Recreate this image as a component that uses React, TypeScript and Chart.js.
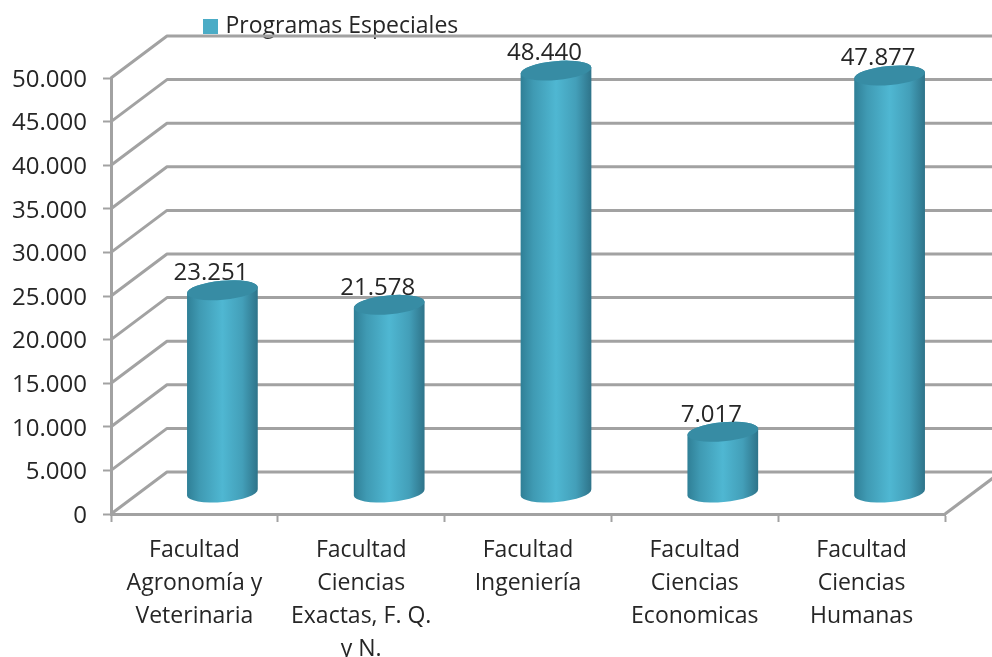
import React, { useEffect, useRef } from "react";
import { Chart, registerables } from "chart.js";

Chart.register(...registerables);

const categories: string[][] = [
  ["Facultad", "Agronomía y", "Veterinaria"],
  ["Facultad", "Ciencias", "Exactas, F. Q.", "y N."],
  ["Facultad", "Ingeniería"],
  ["Facultad", "Ciencias", "Economicas"],
  ["Facultad", "Ciencias", "Humanas"],
];
const programasEspeciales: number[] = [23251, 21578, 48440, 7017, 47877];
const seriesName = "Programas Especiales";

const FONT = "'Open Sans', sans-serif";
const TEXT = "#262626";
const LINE = "#a2a2a2";
const SWATCH = "#4bacc6";
const DEPTH_X = 56;
const DEPTH_Y = 42;

const fmt = (v: number) =>
  v === 0 ? "0" : `${Math.floor(v / 1000)}.${String(v % 1000).padStart(3, "0")}`;

function makeSwatch() {
  const c = document.createElement("canvas");
  c.width = 15;
  c.height = 15;
  const g = c.getContext("2d") as CanvasRenderingContext2D;
  g.fillStyle = SWATCH;
  g.fillRect(0, 0, 15, 15);
  return c;
}

const scene3d = {
  id: "scene3d",
  afterLayout(chart: any) {
    const lg = chart.legend;
    lg.left = 197;
    lg.right = 197 + lg.lineWidths[0] + 20;
    lg.top = 5;
  },
  beforeDraw(chart: any) {
    // nudge the value-axis labels down to sit on their tick marks
    chart.scales.y.getLabelItems(chart.chartArea).forEach((it: any) => {
      if (!it.options.__nudged) {
        it.options.translation = [it.options.translation[0], it.options.translation[1] + 2];
        it.options.__nudged = true;
      }
    });
  },
  beforeDatasetsDraw(chart: any) {
    const { ctx, chartArea, scales } = chart;
    const { left, right } = chartArea;
    const y = scales.y;
    ctx.save();
    ctx.strokeStyle = LINE;
    ctx.lineWidth = 3;
    ctx.lineJoin = "round";
    y.ticks.forEach((t: any) => {
      const py = y.getPixelForValue(t.value);
      ctx.beginPath();
      ctx.moveTo(left, py);
      ctx.lineTo(left + DEPTH_X, py - DEPTH_Y);
      ctx.lineTo(right + DEPTH_X, py - DEPTH_Y);
      ctx.stroke();
    });
    const y0 = y.getPixelForValue(0);
    ctx.beginPath();
    ctx.moveTo(right, y0);
    ctx.lineTo(right + DEPTH_X, y0 - DEPTH_Y);
    ctx.stroke();
    ctx.restore();
  },
  beforeDatasetDraw() {
    return false;
  },
  afterDatasetsDraw(chart: any) {
    const { ctx } = chart;
    const meta = chart.getDatasetMeta(0);
    const theta = -0.09;
    const ry = 9.5;
    meta.data.forEach((bar: any, i: number) => {
      const cx = bar.x + DEPTH_X / 2;
      const top = bar.y - DEPTH_Y / 2;
      const base = bar.base - DEPTH_Y / 2;
      const rx = bar.width / 2;
      ctx.save();
      const g = ctx.createLinearGradient(cx - rx, 0, cx + rx, 0);
      g.addColorStop(0, "#2f7f96");
      g.addColorStop(0.18, "#3f9ab3");
      g.addColorStop(0.5, "#4fb7d2");
      g.addColorStop(0.78, "#439fb9");
      g.addColorStop(1, "#2e7389");
      ctx.fillStyle = g;
      ctx.beginPath();
      ctx.ellipse(cx, base, rx, ry, theta, 0, Math.PI);
      ctx.ellipse(cx, top, rx, ry, theta, Math.PI, 2 * Math.PI);
      ctx.closePath();
      ctx.fill();
      ctx.fillStyle = "#378ca4";
      ctx.beginPath();
      ctx.ellipse(cx, top, rx, ry, theta, 0, 2 * Math.PI);
      ctx.fill();
      ctx.fillStyle = TEXT;
      ctx.font = `24px ${FONT}`;
      ctx.textAlign = "center";
      ctx.textBaseline = "middle";
      ctx.fillText(fmt(programasEspeciales[i]), cx - 11.5, top - 17);
      ctx.restore();
    });
  },
};

export default function App() {
  const ref = useRef<HTMLCanvasElement>(null);
  useEffect(() => {
    const chart = new Chart(ref.current as HTMLCanvasElement, {
      type: "bar",
      data: {
        labels: categories,
        datasets: [
          {
            label: seriesName,
            data: programasEspeciales,
            backgroundColor: SWATCH,
            borderWidth: 0,
            categoryPercentage: 1,
            barPercentage: 0.4257,
          },
        ],
      },
      options: {
        responsive: false,
        animation: false,
        layout: { padding: { top: 35, right: 47, left: 0, bottom: 0 } },
        plugins: {
          tooltip: { enabled: false },
          legend: {
            display: true,
            position: "top",
            align: "start",
            fullSize: false,
            labels: {
              usePointStyle: true,
              pointStyle: makeSwatch(),
              pointStyleWidth: 7,
              boxHeight: 15,
              padding: 10,
              color: TEXT,
              font: { family: FONT, size: 23 },
            },
          },
        },
        scales: {
          x: {
            afterFit: (s: any) => {
              s.height = 143;
            },
            border: { color: LINE, width: 3 },
            grid: {
              drawOnChartArea: false,
              drawTicks: true,
              tickLength: 8,
              tickWidth: 2,
              tickColor: LINE,
              offset: true,
            },
            ticks: {
              autoSkip: false,
              maxRotation: 0,
              minRotation: 0,
              padding: 12,
              color: TEXT,
              font: { family: FONT, size: 23, lineHeight: 1.435 },
            },
          },
          y: {
            min: 0,
            max: 50000,
            afterFit: (s: any) => {
              s.width = 111;
            },
            border: { color: LINE, width: 3 },
            grid: {
              drawOnChartArea: false,
              drawTicks: true,
              tickLength: 8,
              tickWidth: 2,
              tickColor: LINE,
            },
            ticks: {
              stepSize: 5000,
              padding: 16,
              color: TEXT,
              font: { family: FONT, size: 24 },
              callback: (v: any) => fmt(Number(v)),
            },
          },
        },
      },
      plugins: [scene3d],
    } as any);
    return () => chart.destroy();
  }, []);
  return (
    <canvas
      ref={ref}
      width={992}
      height={657}
      style={{ position: "absolute", left: 0, top: 0, display: "block", background: "#fff" }}
    />
  );
}
